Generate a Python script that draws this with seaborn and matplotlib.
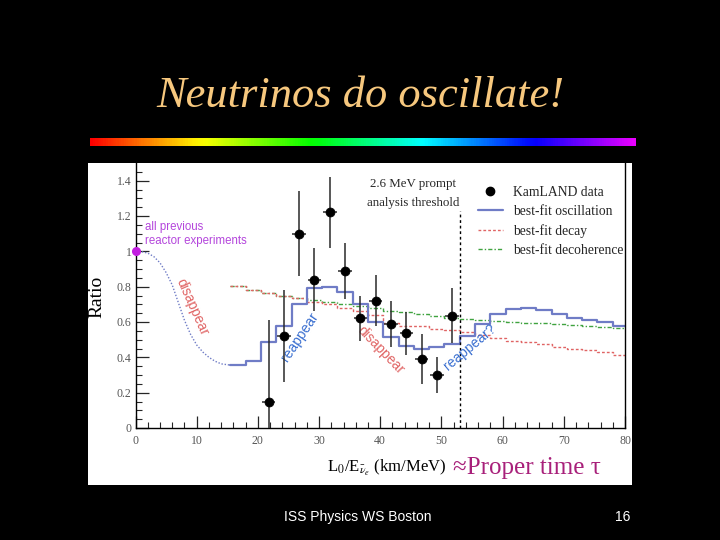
import numpy as np
import pandas as pd
import matplotlib
matplotlib.use("Agg")
import matplotlib.pyplot as plt
from matplotlib.lines import Line2D
from matplotlib.patches import Rectangle
import seaborn as sns


# KamLAND ratio data (bin centres in km/MeV)
data_x = [21.75, 24.25, 26.75, 29.25, 31.75, 34.25, 36.75, 39.25, 41.75, 44.25, 46.75, 49.25, 51.75]
data_y = [0.15, 0.52, 1.10, 0.84, 1.22, 0.89, 0.62, 0.72, 0.59, 0.535, 0.39, 0.30, 0.635]
data_err = [0.46, 0.26, 0.24, 0.18, 0.20, 0.16, 0.13, 0.145, 0.13, 0.12, 0.14, 0.10, 0.155]
data_xerr = 1.1

# prediction histograms
bin_edges = [15.5, 18, 20.5, 23, 25.5, 28, 30.5, 33, 35.5, 38, 40.5, 43, 45.5,
             48, 50.5, 53, 55.5, 58, 60.5, 63, 65.5, 68, 70.5, 73, 75.5, 78, 80.5]
osc_ratio = [0.356, 0.377, 0.484, 0.577, 0.70, 0.79, 0.80, 0.77, 0.70, 0.60,
             0.516, 0.463, 0.445, 0.459, 0.478, 0.52, 0.588, 0.644, 0.674, 0.682,
             0.667, 0.643, 0.621, 0.61, 0.598, 0.578]
decay_ratio = [0.805, 0.782, 0.765, 0.748, 0.735, 0.715, 0.70, 0.677, 0.66, 0.64,
               0.595, 0.58, 0.575, 0.563, 0.553, 0.544, 0.525, 0.507, 0.495, 0.485,
               0.475, 0.46, 0.45, 0.44, 0.43, 0.416]
decoh_ratio = [0.805, 0.782, 0.765, 0.748, 0.735, 0.725, 0.712, 0.70, 0.693, 0.68,
               0.665, 0.655, 0.645, 0.635, 0.625, 0.617, 0.612, 0.607, 0.602, 0.597,
               0.593, 0.588, 0.583, 0.578, 0.572, 0.565]

# oscillation curve below the analysis threshold
curve_x = [0, 1, 2, 3, 4, 5, 6, 7, 8, 9, 10, 11, 12, 13, 14, 15.5]
curve_y = [1.0, 0.998, 0.99, 0.97, 0.935, 0.88, 0.81, 0.71, 0.61, 0.53,
           0.47, 0.43, 0.40, 0.378, 0.363, 0.356]

threshold_x = 53.0
x_ticks = [0, 10, 20, 30, 40, 50, 60, 70, 80]
y_ticks = [0, 0.2, 0.4, 0.6, 0.8, 1.0, 1.2, 1.4]
y_tick_labels = ["0", "0.2", "0.4", "0.6", "0.8", "1", "1.2", "1.4"]

OSC_COL = "#6f7cc6"
DECAY_COL = "#e06464"
DECOH_COL = "#3fa33f"

sns.set_style("ticks")
plt.rcParams["font.family"] = ["Liberation Serif", "DejaVu Serif"]
plt.rcParams["mathtext.fontset"] = "stix"


def step_frame(values):
    return pd.DataFrame({"x": bin_edges, "y": values + [values[-1]]})


fig = plt.figure(figsize=(7.2, 5.4), dpi=100, facecolor="black")

# white picture area of the slide
fig.patches.append(Rectangle((88 / 720, 55 / 540), 544 / 720, 322 / 540,
                             transform=fig.transFigure, facecolor="white",
                             edgecolor="none", zorder=-10))

ax = fig.add_axes([135.5 / 720, 112 / 540, 489.5 / 720, 265 / 540])
ax.set_facecolor("white")

sns.lineplot(x=curve_x, y=curve_y, ax=ax, color=OSC_COL, linewidth=1.0,
             linestyle=(0, (1, 1.3)), estimator=None, sort=False, legend=False)
sns.lineplot(data=step_frame(decoh_ratio), x="x", y="y", ax=ax, color=DECOH_COL,
             linewidth=1.0, linestyle=(0, (3, 1.5, 1, 1.5)), drawstyle="steps-post",
             estimator=None, legend=False)
sns.lineplot(data=step_frame(decay_ratio), x="x", y="y", ax=ax, color=DECAY_COL,
             linewidth=1.0, linestyle=(0, (2, 1.5)), drawstyle="steps-post",
             estimator=None, legend=False)
sns.lineplot(data=step_frame(osc_ratio), x="x", y="y", ax=ax, color=OSC_COL,
             linewidth=1.6, drawstyle="steps-post", estimator=None, legend=False)

ax.errorbar(data_x, data_y, yerr=data_err, xerr=data_xerr, fmt="none",
            ecolor="#2a2a2a", elinewidth=1.1, capsize=0, zorder=4)
sns.scatterplot(x=data_x, y=data_y, ax=ax, color="black", s=42,
                edgecolor="black", zorder=5, legend=False)

# previous reactor experiments
ax.plot([0], [1.0], marker="o", color="#c21ee0", markersize=5.5, clip_on=False, zorder=6)
ax.text(1.55, 1.137, "all previous", color="#b446dc", fontsize=8.3,
        family="Liberation Sans", va="center", ha="left")
ax.text(1.55, 1.056, "reactor experiments", color="#b446dc", fontsize=8.3,
        family="Liberation Sans", va="center", ha="left")

# analysis threshold
ax.plot([threshold_x, threshold_x], [0, 1.23], color="black", linewidth=1.0,
        linestyle=(0, (2, 2)))
ax.text(45.35, 1.38, "2.6 MeV prompt", fontsize=9.3, ha="center", va="center")
ax.text(45.35, 1.275, "analysis threshold", fontsize=9.3, ha="center", va="center")

# annotations
ax.text(9.2, 0.683, "disappear", color=DECAY_COL, fontsize=10, rotation=-66,
        family="Liberation Sans", ha="center", va="center")
ax.text(26.9, 0.514, "reappear", color="#3a6fd0", fontsize=10, rotation=56,
        family="Liberation Sans", ha="center", va="center")
ax.text(40.1, 0.44, "disappear", color=DECAY_COL, fontsize=10, rotation=-46,
        family="Liberation Sans", ha="center", va="center")
ax.text(54.7, 0.457, "reappear?", color="#3a6fd0", fontsize=10, rotation=40,
        family="Liberation Sans", ha="center", va="center")

# legend
handles = [
    Line2D([], [], linestyle="none", marker="o", color="black", markersize=6),
    Line2D([], [], color=OSC_COL, linewidth=1.6),
    Line2D([], [], color=DECAY_COL, linewidth=1.0, linestyle=(0, (2, 1.5))),
    Line2D([], [], color=DECOH_COL, linewidth=1.0, linestyle=(0, (3, 1.5, 1, 1.5))),
]
labels = ["KamLAND data", "best-fit oscillation", "best-fit decay", "best-fit decoherence"]
ax.legend(handles, labels, loc="upper left",
          bbox_to_anchor=((478 - 135.5) / 489.5, (428 - 185.5) / 265),
          frameon=False, fontsize=9.8, handlelength=1.8, handletextpad=0.75,
          labelspacing=0.45, borderpad=0, borderaxespad=0)

ax.set_xlim(0, 80)
ax.set_ylim(0, 1.5)
ax.set_xticks(x_ticks)
ax.set_xticks(np.arange(0, 81, 2), minor=True)
ax.set_yticks(y_ticks)
ax.set_yticklabels(y_tick_labels)
ax.set_yticks(np.arange(0, 1.5, 0.05), minor=True)
ax.tick_params(which="major", direction="in", length=9, width=0.9,
               labelsize=8.5, labelcolor="#555555", pad=5)
ax.tick_params(which="minor", direction="in", length=4.5, width=0.8)
ax.tick_params(axis="y", pad=3)
ax.spines["top"].set_visible(False)
for side in ["left", "bottom", "right"]:
    ax.spines[side].set_linewidth(1.0)
    ax.spines[side].set_color("black")

ax.set_xlabel("")
ax.set_ylabel("Ratio", fontsize=14, color="black")
ax.yaxis.set_label_coords((105 - 135.5) / 489.5, 0.494)

ax.text(0.513, -0.151, r"L$_0$/E$_{\bar{\nu}_e}$ (km/MeV)", transform=ax.transAxes,
        fontsize=12, ha="center", va="center", color="black")
fig.text(527 / 720, 1 - 468 / 540, "\u2248Proper time \u03c4", color="#a8207a",
         fontsize=18, ha="center", va="center")

# slide title and rainbow rule
fig.text(360 / 720, 1 - 107 / 540, "Neutrinos do oscillate!", color="#f7c87e",
         fontsize=32, style="italic", ha="center", va="baseline")
bar = fig.add_axes([90 / 720, 1 - 146 / 540, 546 / 720, 8 / 540])
bar.imshow(np.linspace(0, 1, 512).reshape(1, -1), cmap="hsv", vmin=0, vmax=1.2,
           aspect="auto")
bar.axis("off")

# footer
fig.text(358 / 720, 1 - 517 / 540, "ISS Physics WS Boston", color="white",
         fontsize=10, family="Liberation Sans", ha="center", va="center")
fig.text(623 / 720, 1 - 517 / 540, "16", color="white",
         fontsize=10, family="Liberation Sans", ha="center", va="center")

fig.savefig("out.png", dpi=100, facecolor="black")
